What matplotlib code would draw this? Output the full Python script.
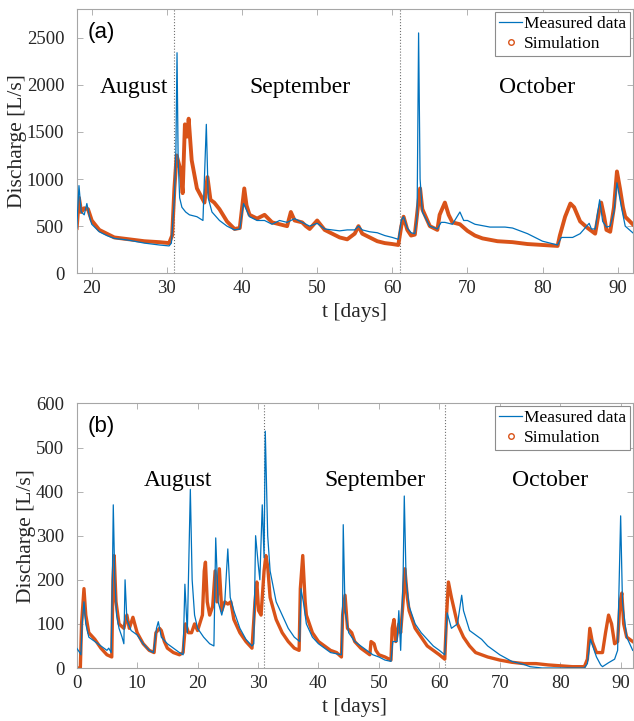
import matplotlib
matplotlib.use("Agg")
import matplotlib.pyplot as plt
from matplotlib.lines import Line2D

# ---------------- data: panel (a) ----------------
ta_meas = [18, 18.3, 18.6, 19, 19.35, 19.7, 20, 21, 22, 23, 25, 27, 29, 30.3, 30.6, 31.0, 31.2, 31.35,
           31.5, 31.7, 32, 32.5, 33, 34, 34.8, 35.25, 35.5, 36, 37, 38, 39, 39.7, 40.2, 41, 42, 43,
           44, 45, 46, 47, 48, 49, 50, 51, 52, 53, 54, 55, 55.5, 56, 57, 58, 59, 60, 60.8, 61.2,
           61.5, 62, 62.5, 63, 63.3, 63.5, 63.7, 64, 65, 66, 66.5, 67, 68, 69, 69.5, 70, 71, 73,
           75, 76, 78, 80, 81, 82, 82.5, 84, 85, 86.2, 86.5, 87, 87.6, 88, 88.5, 89, 89.5, 89.9,
           90.5, 91, 92]
qa_meas = [480, 930, 650, 620, 740, 600, 520, 440, 400, 370, 350, 320, 300, 290, 320, 800, 1300, 2340,
           1200, 800, 700, 650, 620, 600, 560, 1580, 800, 650, 560, 500, 460, 470, 740, 600, 560, 560,
           520, 560, 540, 580, 540, 500, 530, 470, 460, 450, 460, 460, 500, 460, 440, 430, 400, 380, 360, 560,
           600, 480, 430, 420, 600, 2550, 1000, 650, 500, 470, 540, 540, 520, 650, 560, 560, 520, 490,
           490, 480, 420, 340, 320, 300, 380, 380, 420, 530, 470, 470, 780, 550, 490, 500, 650, 960,
           700, 500, 430]

ta_sim = [18, 18.3, 18.6, 19, 19.5, 20, 21, 22, 23, 25, 27, 29, 30.3, 30.7, 31.0, 31.3, 31.8, 32.1,
          32.4, 32.7, 32.9, 33.3, 34, 35, 35.4, 35.8, 36.3, 37, 38, 39, 39.7, 40.3, 40.6, 41, 42, 43,
          44, 45, 46, 46.5, 47, 48, 48.5, 49, 50, 51, 52, 53, 54, 55, 55.5, 56, 57, 58, 59, 60,
          60.8, 61.2, 61.5, 62, 62.5, 63, 63.4, 63.7, 64, 65, 66, 66.3, 67, 67.5, 68, 69, 70, 71,
          72, 74, 76, 78, 80, 82, 82.3, 83, 83.7, 84.2, 85, 86, 87, 87.5, 87.8, 88.2, 88.5, 89,
          89.5, 89.9, 90.3, 90.7, 91, 92]
qa_sim = [480, 800, 650, 690, 680, 560, 460, 420, 380, 360, 340, 330, 320, 400, 900, 1250, 1100, 850,
          1580, 1450, 1640, 1200, 900, 750, 1020, 780, 750, 680, 550, 470, 480, 900, 720, 620, 580, 620,
          540, 520, 500, 650, 560, 540, 500, 470, 560, 460, 420, 380, 360, 420, 500, 420, 380, 340, 320, 310,
          300, 500, 600, 460, 400, 410, 700, 900, 680, 500, 460, 620, 750, 620, 540, 520, 450, 400,
          370, 340, 330, 310, 300, 290, 400, 600, 740, 700, 550, 480, 420, 650, 750, 600, 460, 440,
          700, 1080, 900, 700, 600, 520]

# ---------------- data: panel (b) ----------------
tb_meas = [0, 0.5, 0.7, 0.9, 1.2, 1.5, 2, 3, 4, 5, 5.3, 5.7, 5.9, 6.05, 6.3, 6.6, 7, 7.5, 7.8, 8.0,
           8.3, 9, 10, 11, 12, 12.7, 13.2, 13.5, 14, 15, 16, 17, 17.6, 17.9, 18.3, 18.8, 19.1, 19.5,
           20, 21, 22, 22.7, 23.0, 23.4, 24, 24.5, 25, 25.4, 26, 27, 28, 29, 29.3, 29.6, 30, 30.3,
           30.7, 31.0, 31.2, 31.6, 32, 33, 34, 35, 36, 36.9, 37.1, 37.5, 38, 39, 40, 41, 42, 43.8,
           44.0, 44.1, 44.4, 45, 46, 47, 48, 49, 50, 51, 52, 52.3, 53, 53.3, 53.6, 54.0, 54.2, 54.5,
           55, 56, 57, 58, 59, 60, 60.9, 61.1, 61.3, 62, 63, 63.7, 64, 65, 66, 67, 68, 70, 72, 74,
           75, 77, 80, 82, 84, 84.5, 85, 85.5, 86, 86.7, 87, 88, 89, 89.5, 89.8, 90.0, 90.3, 91, 92]
qb_meas = [45, 35, 30, 100, 150, 100, 70, 60, 50, 40, 45, 35, 200, 370, 200, 120, 90, 70, 55, 200,
           110, 85, 75, 55, 40, 35, 90, 105, 70, 55, 45, 35, 30, 190, 80, 405, 200, 120,
           90, 70, 55, 50, 295, 150, 120, 150, 270, 160, 130, 90, 65, 50, 55, 300, 240, 200,
           370, 250, 537, 300, 220, 150, 120, 90, 70, 60, 180, 150, 100, 70, 55, 45, 35, 30,
           150, 325, 130, 80, 60, 50, 40, 30, 25, 18, 15, 60, 60, 130, 40, 200, 390, 200,
           140, 100, 80, 65, 50, 40, 30, 80, 125, 90, 100, 165, 130, 85, 75, 65, 50, 30, 15, 8,
           3, 0, 0, 0, 0, 10, 65, 45, 25, 7, 3, 12, 20, 40, 220, 345, 150, 70, 40]

tb_sim = [0, 0.6, 0.8, 1.2, 1.5, 2, 3, 3.5, 4, 5, 5.8, 6.0, 6.2, 6.5, 7, 7.8, 8.3, 8.7, 9.3, 10,
          11, 12, 12.8, 13.1, 13.7, 14, 14.5, 15, 16, 17, 17.6, 18.0, 18.5, 19, 19.5, 20, 20.8, 21.1,
          21.3, 21.6, 22, 22.5, 22.9, 23.2, 23.6, 24, 24.5, 25, 25.5, 26, 27, 28, 29, 29.5, 29.8, 30.1,
          30.5, 31.0, 31.3, 31.6, 32, 33, 34, 35, 36, 36.8, 37.0, 37.4, 37.8, 38, 39, 40, 41, 42,
          43, 43.8, 44.0, 44.4, 44.8, 45.5, 46, 47, 48, 48.5, 48.7, 49.2, 49.5, 50, 51, 52, 52.2, 52.5,
          52.8, 53.3, 53.6, 54.0, 54.3, 54.7, 55, 56, 57, 58, 59, 60, 60.9, 61.2, 61.5, 62, 63, 64,
          65, 66, 68, 70, 72, 74, 76, 78, 80, 82, 84, 84.5, 84.9, 85.3, 86, 87, 87.5, 88, 88.5,
          89, 89.5, 89.9, 90.2, 90.5, 91, 92]
qb_sim = [0, 0, 100, 180, 120, 80, 65, 55, 45, 30, 25, 200, 255, 150, 100, 90, 120, 90, 115, 80,
          55, 40, 35, 80, 90, 85, 60, 45, 35, 30, 35, 100, 80, 80, 100, 85, 120, 220,
          240, 150, 120, 140, 220, 150, 225, 130, 150, 145, 150, 110, 80, 60, 45, 150, 195, 130,
          120, 220, 255, 230, 160, 110, 80, 60, 45, 40, 180, 255, 150, 120, 80, 60, 50, 40,
          35, 25, 120, 165, 90, 80, 60, 45, 35, 30, 60, 55, 40, 30, 25, 18, 90, 110,
          60, 100, 80, 150, 225, 160, 130, 90, 70, 50, 40, 30, 20, 120, 195, 160, 100, 70,
          50, 35, 25, 18, 13, 10, 10, 7, 5, 3, 3, 20, 90, 60, 35, 35, 80, 120, 100,
          55, 60, 150, 170, 100, 70, 60]

month_names = ["August", "September", "October"]
month_bounds = [31, 61]

# ---------------- styling ----------------
serif = ["Liberation Serif", "DejaVu Serif"]
sans = ["Liberation Sans", "DejaVu Sans"]
blue = "#0072BD"
orange = "#D95319"
spine_col = "#a6a6a6"
txt_col = "#262626"

fig = plt.figure(figsize=(6.34, 7.21), dpi=100)
ax_a = fig.add_axes([0.121, 0.621, 0.877, 0.366])
ax_b = fig.add_axes([0.121, 0.0735, 0.877, 0.367])

panels = [
    (ax_a, ta_meas, qa_meas, ta_sim, qa_sim, (18, 92), (0, 2800), list(range(20, 91, 10)),
     list(range(0, 2501, 500)), "(a)", [25.6, 47.7, 79.3], 1970, 2.8, -0.089),
    (ax_b, tb_meas, qb_meas, tb_sim, qb_sim, (0, 92), (0, 600), list(range(0, 91, 10)),
     list(range(0, 601, 100)), "(b)", [16.7, 49.3, 78.3], 426, 2.4, -0.073),
]

for (ax, tm, qm, ts, qs, xl, yl, xt, yt, tag, mx, my, slw, ylx) in panels:
    ax.plot(tm, qm, color=blue, lw=0.9, zorder=3)
    ax.plot(ts, qs, color=orange, lw=slw, zorder=2)
    for b in month_bounds:
        ax.axvline(b, color="#707070", ls=":", lw=0.8, zorder=1)
    ax.set_xlim(*xl)
    ax.set_ylim(*yl)
    ax.set_xticks(xt)
    ax.set_yticks(yt)
    ax.tick_params(direction="in", top=True, right=True, length=4, width=0.6,
                   color=spine_col, labelcolor=txt_col, labelsize=13.5)
    ax.tick_params(axis="y", pad=9)
    ax.tick_params(axis="x", pad=5)
    for lab in ax.get_xticklabels() + ax.get_yticklabels():
        lab.set_family(serif)
    for sp in ax.spines.values():
        sp.set_color(spine_col)
        sp.set_linewidth(0.8)
    ax.set_xlabel("t [days]", family=serif, fontsize=15.5, color=txt_col, labelpad=4)
    ax.set_ylabel("Discharge [L/s]", family=serif, fontsize=15.5, color=txt_col)
    ax.yaxis.set_label_coords(ylx, 0.5)
    ax.text(0.02, 0.913, tag, transform=ax.transAxes, ha="left", va="center",
            family=sans, fontsize=16, color="black")
    for name, x in zip(month_names, mx):
        ax.text(x, my, name, ha="center", va="center", family=serif, fontsize=17, color="black")
    handles = [Line2D([], [], color=blue, lw=0.9),
               Line2D([], [], color=orange, ls="none", marker="o", ms=4,
                      mfc="none", mew=1.0)]
    leg = ax.legend(handles, ["Measured data", "Simulation"], loc="upper right",
                    prop={"family": serif, "size": 12.5}, frameon=True, fancybox=False,
                    edgecolor="#8c8c8c", framealpha=1, handlelength=1.3, handletextpad=0.1,
                    borderpad=0.25, labelspacing=0.2, borderaxespad=0.15)
    leg.get_frame().set_linewidth(0.8)

fig.savefig("out.png", dpi=100)
